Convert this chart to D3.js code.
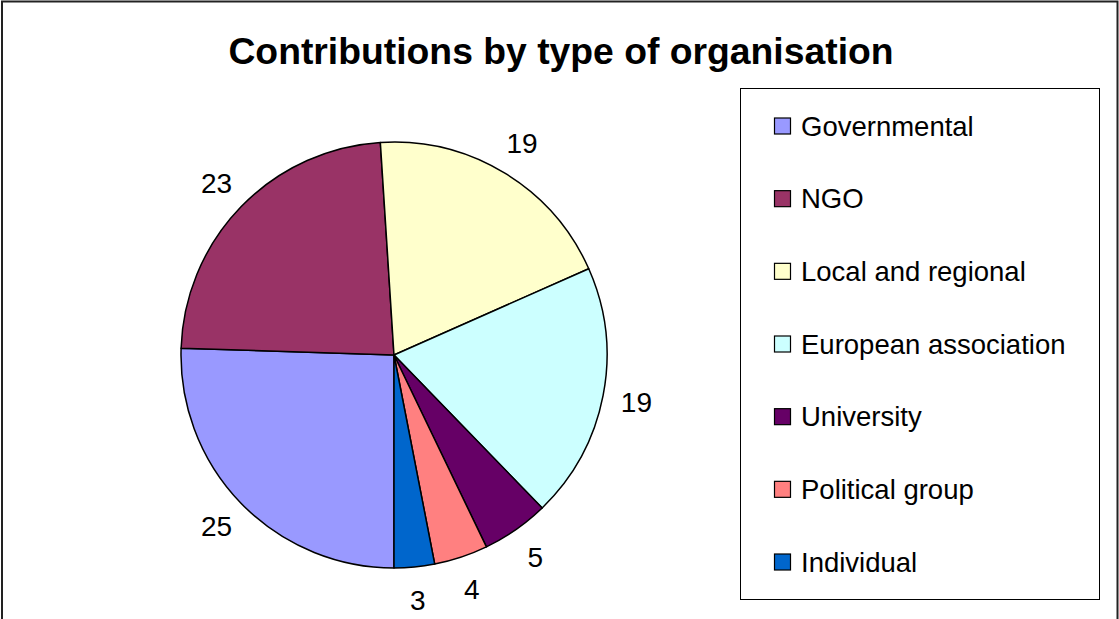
<!DOCTYPE html>
<html>
<head>
<meta charset="utf-8">
<script src="https://cdn.jsdelivr.net/npm/d3@7"></script>
<style>
  html, body { margin: 0; padding: 0; background: #fff; }
  svg { display: block; font-family: "Liberation Sans", Arial, sans-serif; }
</style>
</head>
<body>
<svg id="chart" width="1119" height="619"></svg>
<script>
const categories = ["Governmental", "NGO", "Local and regional", "European association", "University", "Political group", "Individual"];
const values = [25, 23, 19, 19, 5, 4, 3];
const colors = ["#9999FF", "#993366", "#FFFFCC", "#CCFFFF", "#660066", "#FF8080", "#0066CC"];
const title = "Contributions by type of organisation";

const svg = d3.select("#chart");

// outer chart border
svg.append("rect")
  .attr("x", 2).attr("y", 1.5).attr("width", 1115.5).attr("height", 640)
  .attr("fill", "none").attr("stroke", "#222").attr("stroke-width", 2);

// title
svg.append("text")
  .attr("x", 561).attr("y", 64)
  .attr("text-anchor", "middle")
  .attr("font-size", 37.3).attr("font-weight", "bold")
  .attr("fill", "#000")
  .text(title);

// pie
const cx = 394, cy = 355, r = 213;
const data = categories.map((c, i) => ({ name: c, value: values[i], color: colors[i] }));
const pie = d3.pie().value(d => d.value).sort(null).startAngle(Math.PI).endAngle(3 * Math.PI);
const arcs = pie(data);
const arc = d3.arc().innerRadius(0).outerRadius(r);
const labelArc = d3.arc().innerRadius(r + 34).outerRadius(r + 34);

const g = svg.append("g").attr("transform", `translate(${cx},${cy})`);
g.selectAll("path.slice").data(arcs).join("path")
  .attr("class", "slice")
  .attr("d", arc)
  .attr("fill", d => d.data.color)
  .attr("stroke", "#000").attr("stroke-width", 1.5).attr("stroke-linejoin", "round");

g.selectAll("text.lbl").data(arcs).join("text")
  .attr("class", "lbl")
  .attr("transform", d => `translate(${labelArc.centroid(d)})`)
  .attr("text-anchor", "middle")
  .attr("dominant-baseline", "central")
  .attr("font-size", 28)
  .attr("fill", "#000")
  .text(d => d.data.value);

// legend
const lx = 740, ly = 88, lw = 359, lh = 511;
svg.append("rect")
  .attr("x", lx + 0.5).attr("y", ly + 0.5).attr("width", lw).attr("height", lh)
  .attr("fill", "#fff").attr("stroke", "#000").attr("stroke-width", 1);

const rowY = d3.scalePoint().domain(categories).range([126, 562]);
const leg = svg.append("g");
const items = leg.selectAll("g").data(data).join("g")
  .attr("transform", d => `translate(0,${rowY(d.name)})`);
items.append("rect")
  .attr("x", 774.5).attr("y", -8).attr("width", 16).attr("height", 16)
  .attr("fill", d => d.color).attr("stroke", "#000").attr("stroke-width", 1.2);
items.append("text")
  .attr("x", 801).attr("y", 0)
  .attr("dominant-baseline", "central")
  .attr("font-size", 27.5)
  .attr("fill", "#000")
  .text(d => d.name);
</script>
</body>
</html>
